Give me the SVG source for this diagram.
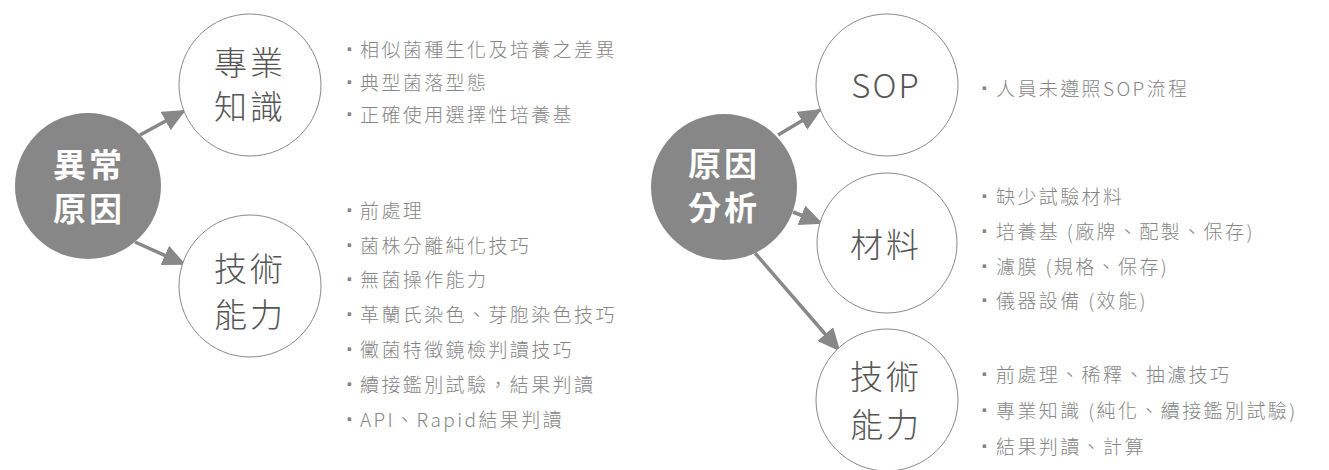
<svg xmlns="http://www.w3.org/2000/svg" width="1329" height="470" viewBox="0 0 1329 470">
<style>
.hub{fill:#878787;}
.sub{fill:#fff;stroke:#8a8a8a;stroke-width:1;}
.hubt{font-family:"Noto Sans CJK TC","Noto Sans CJK SC",sans-serif;font-size:33px;font-weight:700;fill:#fff;letter-spacing:3px;text-anchor:middle;}
.subt{font-family:"Noto Sans CJK TC","Noto Sans CJK SC",sans-serif;font-size:33px;font-weight:300;fill:#555;letter-spacing:3px;text-anchor:middle;}
.li{font-family:"Noto Sans CJK TC","Noto Sans CJK SC",sans-serif;font-size:19px;font-weight:300;fill:#858585;letter-spacing:2.4px;}
.dot{font-family:"Liberation Sans",sans-serif;font-size:24px;font-weight:700;letter-spacing:0;}
.conn{stroke:#888;stroke-width:3.5;fill:none;marker-end:url(#ah);}
</style>
<defs>
<marker id="ah" markerUnits="userSpaceOnUse" markerWidth="23" markerHeight="21" refX="21" refY="10.5" orient="auto">
<path d="M0,0 L23,10.5 L0,21 Z" fill="#888"/>
</marker>
</defs>
<rect width="1329" height="470" fill="#fff"/>
<g id="connectors">
<line class="conn" x1="140" y1="135" x2="184" y2="111"/>
<line class="conn" x1="135" y1="242" x2="184" y2="264"/>
<line class="conn" x1="778" y1="135" x2="820" y2="110"/>
<line class="conn" x1="793" y1="212" x2="821" y2="223"/>
<line class="conn" x1="755" y1="253" x2="839" y2="350"/>
</g>
<g id="hub-left">
<circle class="hub" cx="88" cy="186" r="73"/>
<text class="hubt" x="89" y="177">異常</text>
<text class="hubt" x="89" y="221">原因</text>
</g>
<g id="node-knowledge">
<circle class="sub" cx="250" cy="85" r="71"/>
<text class="subt" x="250" y="75">專業</text>
<text class="subt" x="250" y="119">知識</text>
</g>
<g id="node-skill-left">
<circle class="sub" cx="250" cy="286" r="71"/>
<text class="subt" x="250" y="281">技術</text>
<text class="subt" x="250" y="327">能力</text>
</g>
<g id="list-knowledge">
<text class="li" y="57"><tspan class="dot" x="346">·</tspan><tspan x="360">相似菌種生化及培養之差異</tspan></text>
<text class="li" y="90"><tspan class="dot" x="346">·</tspan><tspan x="360">典型菌落型態</tspan></text>
<text class="li" y="122"><tspan class="dot" x="346">·</tspan><tspan x="360">正確使用選擇性培養基</tspan></text>
</g>
<g id="list-skill-left">
<text class="li" y="218"><tspan class="dot" x="346">·</tspan><tspan x="360">前處理</tspan></text>
<text class="li" y="253"><tspan class="dot" x="346">·</tspan><tspan x="360">菌株分離純化技巧</tspan></text>
<text class="li" y="287"><tspan class="dot" x="346">·</tspan><tspan x="360">無菌操作能力</tspan></text>
<text class="li" y="322"><tspan class="dot" x="346">·</tspan><tspan x="360">革蘭氏染色、芽胞染色技巧</tspan></text>
<text class="li" y="357"><tspan class="dot" x="346">·</tspan><tspan x="360">黴菌特徵鏡檢判讀技巧</tspan></text>
<text class="li" y="392"><tspan class="dot" x="346">·</tspan><tspan x="360">續接鑑別試驗，結果判讀</tspan></text>
<text class="li" y="427"><tspan class="dot" x="346">·</tspan><tspan x="360">API、Rapid結果判讀</tspan></text>
</g>
<g id="hub-right">
<circle class="hub" cx="724" cy="187" r="73"/>
<text class="hubt" x="724" y="176">原因</text>
<text class="hubt" x="724" y="220">分析</text>
</g>
<g id="node-sop">
<circle class="sub" cx="887" cy="85" r="71"/>
<text class="subt" x="886" y="98" style="letter-spacing:2px">SOP</text>
</g>
<g id="node-material">
<circle class="sub" cx="887" cy="243" r="70"/>
<text class="subt" x="886" y="257">材料</text>
</g>
<g id="node-skill-right">
<circle class="sub" cx="887" cy="400" r="71"/>
<text class="subt" x="886" y="389">技術</text>
<text class="subt" x="886" y="437">能力</text>
</g>
<g id="list-sop">
<text class="li" y="96"><tspan class="dot" x="981">·</tspan><tspan x="996">人員未遵照SOP流程</tspan></text>
</g>
<g id="list-material">
<text class="li" y="204"><tspan class="dot" x="981">·</tspan><tspan x="996">缺少試驗材料</tspan></text>
<text class="li" y="239"><tspan class="dot" x="981">·</tspan><tspan x="996">培養基 (廠牌、配製、保存)</tspan></text>
<text class="li" y="274"><tspan class="dot" x="981">·</tspan><tspan x="996">濾膜 (規格、保存)</tspan></text>
<text class="li" y="308"><tspan class="dot" x="981">·</tspan><tspan x="996">儀器設備 (效能)</tspan></text>
</g>
<g id="list-skill-right">
<text class="li" y="382"><tspan class="dot" x="981">·</tspan><tspan x="996">前處理、稀釋、抽濾技巧</tspan></text>
<text class="li" y="418"><tspan class="dot" x="981">·</tspan><tspan x="996">專業知識 (純化、續接鑑別試驗)</tspan></text>
<text class="li" y="454"><tspan class="dot" x="981">·</tspan><tspan x="996">結果判讀、計算</tspan></text>
</g>
</svg>
